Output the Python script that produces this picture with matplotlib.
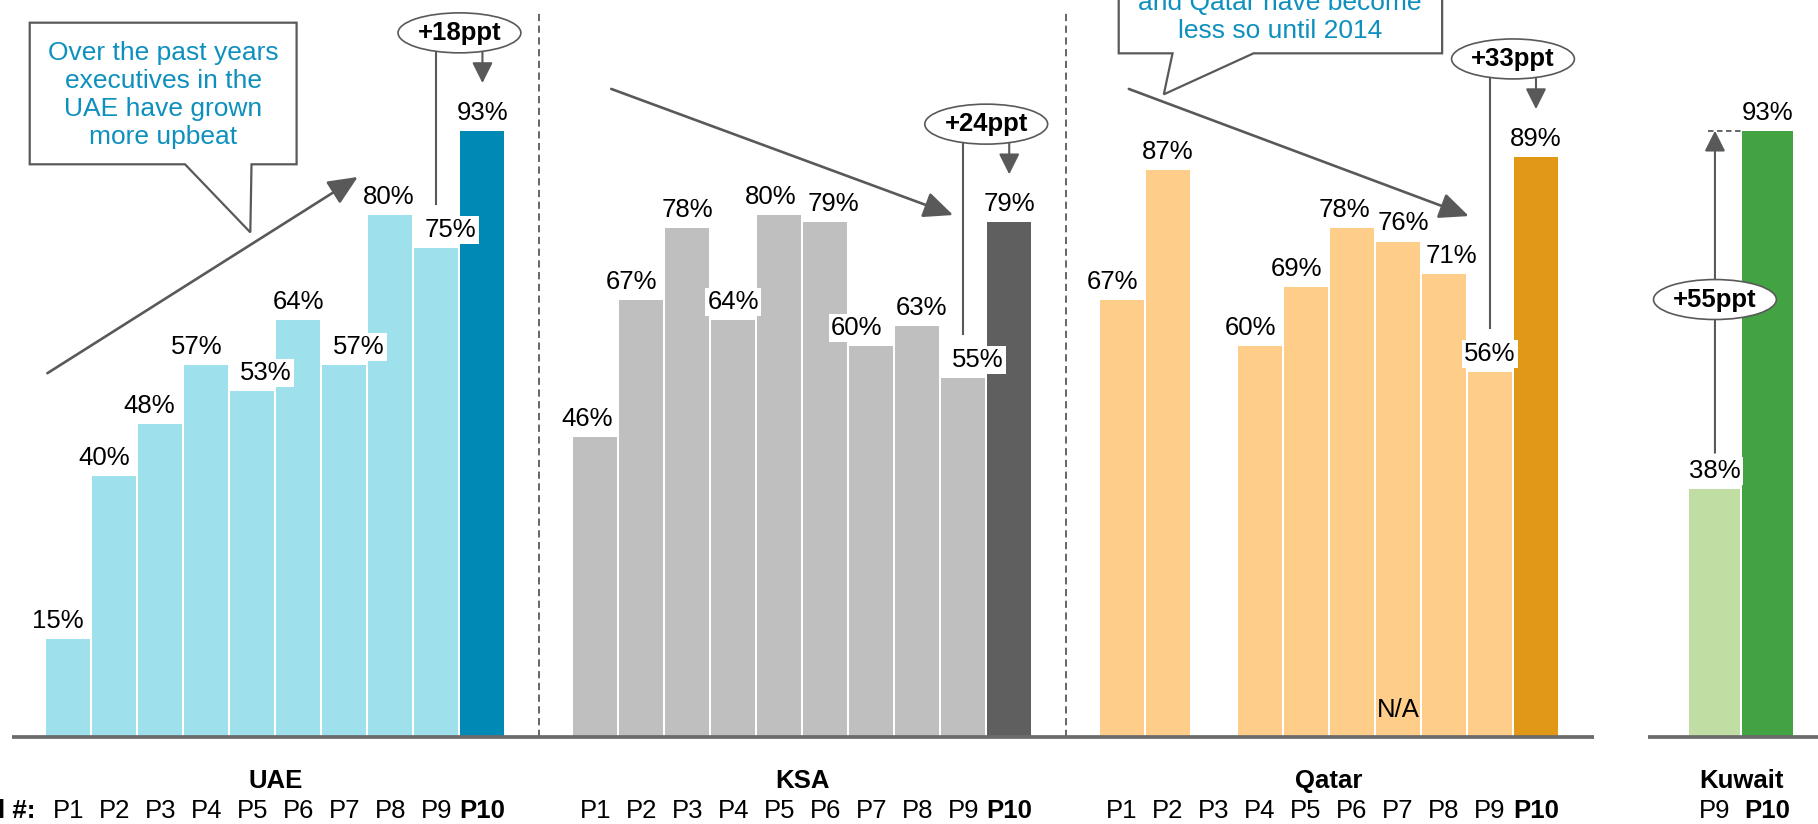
import numpy as np
import matplotlib
matplotlib.use("Agg")
import matplotlib.pyplot as plt
from matplotlib.patches import Ellipse, Polygon

plt.rcParams['font.family'] = ['Liberation Sans', 'DejaVu Sans']

# survey results, share of upbeat executives per period (%)
periods = ['P1', 'P2', 'P3', 'P4', 'P5', 'P6', 'P7', 'P8', 'P9', 'P10']
uae = [15, 40, 48, 57, 53, 64, 57, 80, 75, 93]
ksa = [46, 67, 78, 64, 80, 79, 60, 63, 55, 79]
qatar = [67, 87, None, 60, 69, 78, 76, 71, 56, 89]
kuwait_periods = ['P9', 'P10']
kuwait = [38, 93]
countries = ['UAE', 'KSA', 'Qatar', 'Kuwait']

# light / dark colours per country
colors = {
    'UAE': ('#9FE0ED', '#0089B4'),
    'KSA': ('#BFBFBF', '#5F5F5F'),
    'Qatar': ('#FFCD8A', '#E09816'),
    'Kuwait': ('#C0DEA3', '#43A342'),
}

# small sideways nudges so the labels do not collide
uae_dx = [-0.24, -0.22, -0.25, -0.21, 0.30, 0, 0.31, -0.04, 0.31, 0]
ksa_dx = [-0.17, -0.22, 0, 0, -0.19, 0.18, -0.32, 0.10, 0.32, 0]
qatar_dx = [-0.2, 0, 0, -0.2, -0.21, -0.17, 0.12, 0.17, 0, 0]

GREY = '#595959'
CALLOUT = '#0E90BF'
FS = 18.5

fig = plt.figure(figsize=(18.18, 8.24), dpi=100)
ax = fig.add_axes([0, 0, 1, 1])
ax.set_xlim(-1.487, 38.03)
ax.set_ylim(-13.34, 113.04)
ax.axis('off')


def draw_group(name, start, values, dx, labels, width=0.955, pitch=1.0):
    light, dark = colors[name]
    xs = start + pitch * np.arange(len(values))
    for i, (x, v) in enumerate(zip(xs, values)):
        last = i == len(values) - 1
        ax.text(x, -11.35, labels[i], ha='center', va='center', fontsize=FS,
                fontweight='bold' if last else 'normal')
        if v is None:
            continue
        ax.bar(x, v, width=width, color=dark if last else light, zorder=2)
        ax.text(x + dx[i], v + 1.7, f'{v}%', ha='center', va='baseline',
                fontsize=FS, zorder=4,
                bbox=dict(boxstyle='square,pad=0.08', fc='white', ec='none'))
    ax.text(xs.mean(), -6.75, name, ha='center', va='center',
            fontsize=FS, fontweight='bold')
    return xs


def ppt_bubble(x, y, text):
    ax.add_patch(Ellipse((x, y), 2.67, 6.13, fc='white', ec=GREY, lw=1.2, zorder=5))
    ax.text(x, y, text, ha='center', va='center', fontsize=FS,
            fontweight='bold', zorder=6)


def arrow(x0, y0, x1, y1, lw=1.9, hl=0.9, hw=0.4, ms=20, z=3):
    ax.annotate('', xy=(x1, y1), xytext=(x0, y0), zorder=z,
                arrowprops=dict(arrowstyle=f'-|>,head_length={hl},head_width={hw}',
                                color=GREY, lw=lw, shrinkA=0, shrinkB=0,
                                mutation_scale=ms))


def period_bracket(xs, values):
    v9, v10 = values[-2], values[-1]
    xm = (xs[-2] + xs[-1]) / 2
    yc = v10 + 15
    ax.plot([xs[-2], xs[-2]], [yc, v9 + 6.8], color=GREY, lw=1.5, zorder=3)
    arrow(xs[-1], yc, xs[-1], v10 + 7.3, lw=1.5, hl=0.7, hw=0.35, ms=18)
    ppt_bubble(xm, yc, f'+{v10 - v9}ppt')


starts = [0, 11.45, 22.9]
uae_x = draw_group('UAE', starts[0], uae, uae_dx, periods)
ksa_x = draw_group('KSA', starts[1], ksa, ksa_dx, periods)
qatar_x = draw_group('Qatar', starts[2], qatar, qatar_dx, periods)
kw_x = draw_group('Kuwait', 35.79, kuwait, [0, 0], kuwait_periods,
                  width=1.11, pitch=1.143)

ax.text(-0.72, -11.35, 'Poll #:', ha='right', va='center',
        fontsize=FS, fontweight='bold')
ax.text(qatar_x[6], 4.1, 'N/A', ha='center', va='center', fontsize=FS, zorder=4)

# baselines
ax.plot([-1.235, 33.17], [0, 0], color='#6B6B6B', lw=2.7, zorder=3,
        solid_capstyle='butt')
ax.plot([34.34, 38.1], [0, 0], color='#6B6B6B', lw=2.7, zorder=3,
        solid_capstyle='butt')

# separators between countries
for xsep in [(uae_x[-1] + ksa_x[0]) / 2, (ksa_x[-1] + qatar_x[0]) / 2]:
    ax.plot([xsep, xsep], [0, 111], color=GREY, lw=1.3,
            linestyle=(0, (4, 2.5)), zorder=1)

# ppt change brackets
period_bracket(uae_x, uae)
period_bracket(ksa_x, ksa)
period_bracket(qatar_x, qatar)

# Kuwait: rise from P9 to P10
ax.plot([kw_x[0] - 0.15, kw_x[1] - 0.55], [kuwait[1], kuwait[1]], color=GREY,
        lw=1.3, linestyle=(0, (3, 2)), zorder=3)
arrow(kw_x[0], kuwait[0] + 5.6, kw_x[0], kuwait[1], lw=1.5, hl=0.7, hw=0.35, ms=18)
ppt_bubble(kw_x[0], 67.1, f'+{kuwait[1] - kuwait[0]}ppt')

# trend arrows
arrow(-0.457, 55.8, 6.29, 85.9)
arrow(11.80, 99.4, 19.23, 80.06)
arrow(23.05, 99.4, 30.44, 79.9)

# callout boxes
ax.add_patch(Polygon([(-0.841, 109.56), (4.96, 109.56), (4.96, 87.84),
                      (3.98, 87.84), (3.954, 77.4), (2.535, 87.84),
                      (-0.841, 87.84)], closed=True, fc='white', ec=GREY,
                     lw=1.6, zorder=5))
ax.text(2.06, 98.47, 'Over the past years\nexecutives in the\nUAE have grown\nmore upbeat',
        ha='center', va='center', fontsize=19, color=CALLOUT,
        linespacing=1.21, zorder=6)

ax.add_patch(Polygon([(22.83, 120), (29.86, 120), (29.86, 104.86),
                      (25.76, 104.86), (23.81, 98.57), (24.0, 104.86),
                      (22.83, 104.86)], closed=True, fc='white', ec=GREY,
                     lw=1.6, zorder=5))
ax.text(26.34, 110.4, 'and Qatar have become\nless so until 2014',
        ha='center', va='center', fontsize=19, color=CALLOUT,
        linespacing=1.21, zorder=6)

fig.savefig('out.png', dpi=100)
